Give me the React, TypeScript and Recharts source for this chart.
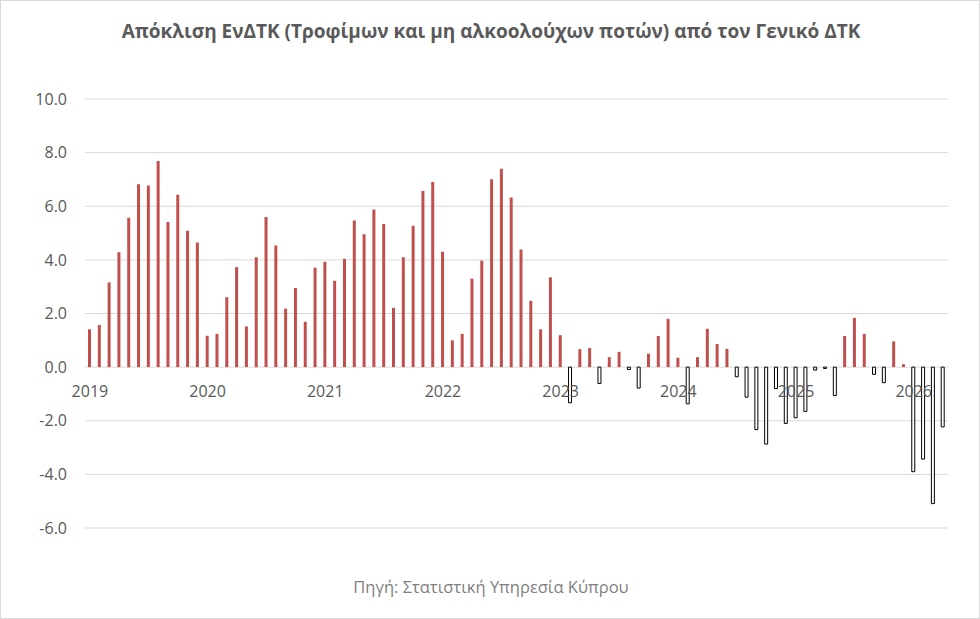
import React from "react";
import { BarChart, Bar, XAxis, YAxis, CartesianGrid, Cell } from "recharts";

// Monthly deviation (percentage points), Jan 2019 – Apr 2026
const years = ["2019", "2020", "2021", "2022", "2023", "2024", "2025", "2026"];
const v2019 = [1.41, 1.57, 3.16, 4.28, 5.57, 6.82, 6.77, 7.69, 5.41, 6.43, 5.09, 4.65];
const v2020 = [1.17, 1.24, 2.61, 3.73, 1.52, 4.1, 5.6, 4.54, 2.18, 2.95, 1.69, 3.71];
const v2021 = [3.93, 3.22, 4.04, 5.47, 4.96, 5.88, 5.34, 2.21, 4.1, 5.27, 6.57, 6.9];
const v2022 = [4.3, 1.0, 1.24, 3.3, 3.97, 7.01, 7.4, 6.33, 4.39, 2.47, 1.41, 3.35];
const v2023 = [1.19, -1.33, 0.67, 0.71, -0.61, 0.37, 0.57, -0.09, -0.78, 0.5, 1.16, 1.8];
const v2024 = [0.35, -1.37, 0.37, 1.43, 0.86, 0.68, -0.36, -1.12, -2.33, -2.87, -0.8, -2.1];
const v2025 = [-1.89, -1.65, -0.11, -0.05, -1.06, 1.16, 1.84, 1.24, -0.27, -0.58, 0.96, 0.11];
const v2026 = [-3.9, -3.43, -5.09, -2.23];
const yTicks = [-6, -4, -2, 0, 2, 4, 6, 8, 10];

const title = "Απόκλιση ΕνΔΤΚ (Τροφίμων και μη αλκοολούχων ποτών) από τον Γενικό ΔΤΚ";
const source = "Πηγή: Στατιστική Υπηρεσία Κύπρου";

const yearValues = [v2019, v2020, v2021, v2022, v2023, v2024, v2025, v2026];
const data = yearValues.flatMap((vals, yi) =>
  vals.map((v, mi) => ({ month: `${years[yi]}-${String(mi + 1).padStart(2, "0")}`, value: v }))
);

const W = 980;
const H = 619;
const M = { top: 99, right: 32, bottom: 61, left: 0 };
const Y_MIN = -6;
const Y_MAX = 10;
const PLOT_TOP = M.top;
const PLOT_BOTTOM = H - M.bottom - 30;
const ZERO_Y = PLOT_TOP + ((PLOT_BOTTOM - PLOT_TOP) * (Y_MAX - 0)) / (Y_MAX - Y_MIN);

const FONT = "'Open Sans', 'Noto Sans', sans-serif";
const GREY = "#595959";

const YearTick = (props: any) => {
  const { x, payload } = props;
  return (
    <text x={x} y={ZERO_Y + 30} textAnchor="middle" fill={GREY} fontSize={16} fontFamily={FONT}>
      {String(payload.value).slice(0, 4)}
    </text>
  );
};

export default function App() {
  return (
    <div
      style={{
        position: "absolute",
        left: 0,
        top: 0,
        width: W,
        height: H,
        background: "#fff",
        boxSizing: "border-box",
        border: "1px solid #d9d9d9",
        fontFamily: FONT,
      }}
    >
      <div
        style={{
          position: "absolute",
          top: 17,
          left: 0,
          width: W,
          textAlign: "center",
          fontWeight: 700,
          fontSize: 19,
          color: GREY,
        }}
      >
        {title}
      </div>
      <div style={{ position: "absolute", left: -1, top: -1 }}>
        <BarChart width={W} height={H} data={data} margin={M} barCategoryGap={0}>
          <CartesianGrid vertical={false} stroke="#d9d9d9" strokeWidth={1} />
          <XAxis
            dataKey="month"
            interval={11}
            axisLine={false}
            tickLine={false}
            tick={<YearTick />}
            height={30}
          />
          <YAxis
            domain={[Y_MIN, Y_MAX]}
            ticks={yTicks}
            allowDataOverflow
            width={85}
            axisLine={false}
            tickLine={false}
            tickSize={0}
            tickMargin={18}
            tickFormatter={(v: number) => v.toFixed(1)}
            tick={{ fill: GREY, fontSize: 16, fontFamily: FONT }}
          />
          <Bar dataKey="value" barSize={3} isAnimationActive={false}>
            {data.map((d, i) => (
              <Cell
                key={i}
                fill={d.value >= 0 ? "#C0504D" : "#ffffff"}
                stroke={d.value >= 0 ? "none" : "#000000"}
                strokeWidth={1}
              />
            ))}
          </Bar>
        </BarChart>
      </div>
      <div
        style={{
          position: "absolute",
          top: 574,
          left: 0,
          width: W,
          textAlign: "center",
          fontSize: 16.5,
          color: "#7f7f7f",
        }}
      >
        {source}
      </div>
    </div>
  );
}
